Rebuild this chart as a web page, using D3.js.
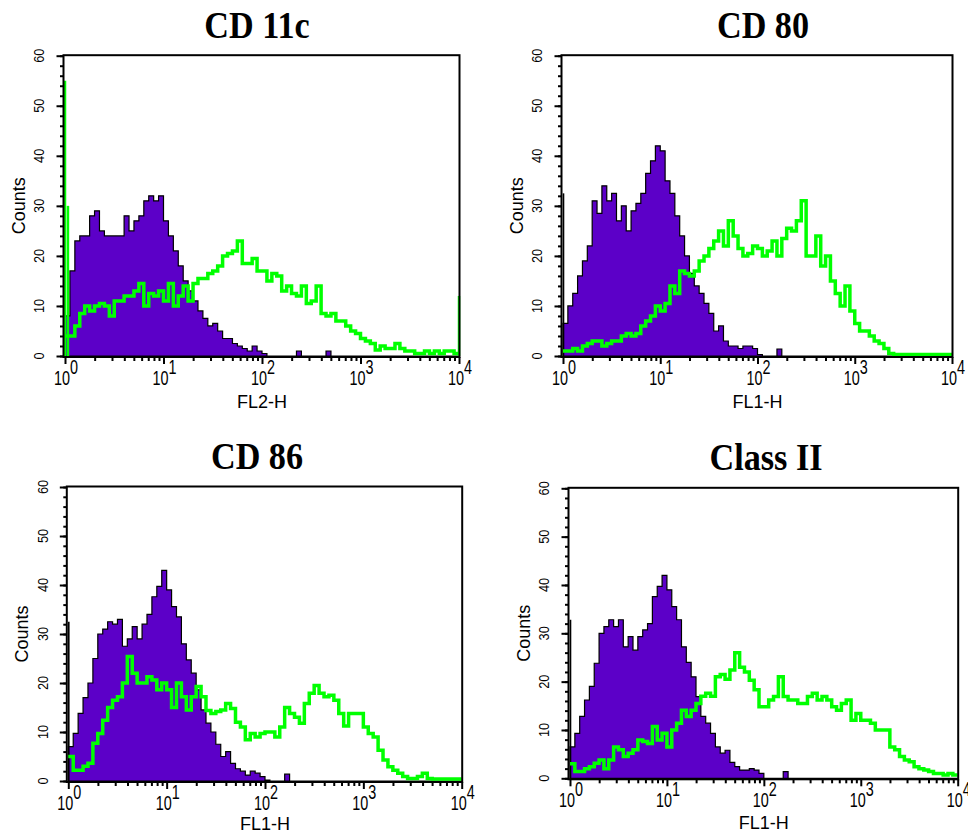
<!DOCTYPE html>
<html>
<head>
<meta charset="utf-8">
<script src="https://cdn.jsdelivr.net/npm/d3@7"></script>
<style>
  body { margin: 0; background: #fff; }
  svg { display: block; }
</style>
</head>
<body>
<div id="chart"></div>
<script>
// each histogram value is one channel bin, binWidth decades wide, starting at 10^0
const binWidth = 0.05;
const countTicks = [0, 10, 20, 30, 40, 50, 60];
const decades = [0, 1, 2, 3, 4];
const titles = ['CD 11c', 'CD 80', 'CD 86', 'Class II'];
const xLabels = ['FL2-H', 'FL1-H', 'FL1-H', 'FL1-H'];

// purple = isotype control, green = stained sample
const cd11cControl = [
  8, 17, 23, 24, 24, 28, 29, 25, 24, 24,
  24, 24, 28, 25, 27, 28, 31, 32, 31, 32,
  27, 24, 21, 18, 15, 13, 11, 9, 7.5, 6,
  6.5, 5, 3.5, 3.5, 2.5, 2, 1.5, 1, 2, 1,
  0.5, 0, 0, 0, 0, 0, 0, 1, 0, 0,
  0, 0, 0, 1, 0, 0, 0, 0, 0, 0,
  0, 0, 0, 0, 0, 0, 0, 0, 0, 0,
  0, 0, 0, 0, 0, 0, 0, 0, 0, 0
];
const cd11cStained = [
  4, 4, 6, 8.5, 10, 9, 10, 10.5, 10, 8,
  11, 11, 12, 12, 13, 14.5, 10, 12.5, 12, 13,
  11, 14.5, 10, 12, 14, 11, 14.5, 15.5, 15.5, 16.5,
  17, 18, 20, 20.5, 21, 23, 18.5, 18.5, 19.5, 17,
  17, 15, 16.5, 16, 13, 14, 12.5, 12, 14, 10.5,
  11, 14, 8.5, 8, 8.5, 7, 7, 6, 5, 4.5,
  3.5, 3, 2.5, 1.2, 2, 1.5, 1.5, 2.5, 1.5, 1,
  1, 0.5, 0.5, 1, 0.5, 1, 0.5, 1, 1, 0.5
];
const cd80Control = [
  6.5, 10, 12.5, 16, 19, 22, 31, 28.5, 34, 31,
  32.5, 27, 30, 25, 29, 30.5, 32.5, 36.5, 39, 42,
  41, 35, 32.5, 28, 24, 20, 16.5, 14, 12.5, 10.5,
  8.5, 5, 6, 3, 2, 2, 1.5, 2, 2, 1.5,
  0.3, 0, 0, 0, 1.4, 0, 0, 0, 0, 0,
  0, 0, 0, 0, 0, 0, 0, 0, 0, 0,
  0, 0, 0, 0, 0, 0, 0, 0, 0, 0,
  0, 0, 0, 0, 0, 0, 0, 0, 0, 0
];
const cd80Stained = [
  1, 1, 1.5, 1, 2, 2.5, 3, 3, 2, 2.5,
  3, 3, 4, 4.5, 4, 4.5, 6, 7, 8, 10,
  9, 10.5, 14, 12.5, 17, 16.5, 16, 17, 19, 20,
  21.5, 23, 25, 22, 27, 24, 21.5, 20, 20.5, 22,
  21.5, 20, 21, 23, 20, 23.5, 25.5, 25, 27, 31,
  20, 20, 24, 18, 20, 15, 12.5, 10, 14, 9,
  6.5, 5, 5, 4, 3, 2.5, 1.5, 0.5, 0.3, 0.3,
  0.3, 0.3, 0.3, 0.3, 0.3, 0.3, 0.3, 0.3, 0.3, 0.3
];
const cd86Control = [
  7, 9.7, 13.8, 17, 20, 25, 30, 31, 32.5, 32,
  33, 27.5, 29, 31.5, 29, 32, 34, 37.6, 39.7, 43,
  39, 35.6, 33.5, 28, 24.7, 22, 18.6, 14.5, 11.8, 10,
  7.5, 5, 6, 3.6, 2.5, 2, 1.2, 2, 1.6, 0.9,
  0.2, 0, 0, 0, 1.4, 0, 0, 0, 0, 0,
  0, 0, 0, 0, 0, 0, 0, 0, 0, 0,
  0, 0, 0, 0, 0, 0, 0, 0, 0, 0,
  0, 0, 0, 0, 0, 0, 0, 0, 0, 0
];
const cd86Stained = [
  5, 2.2, 2.2, 3, 3.6, 7.7, 9.7, 12.4, 15, 16.5,
  17.2, 20, 25.4, 22, 20, 20, 21.3, 20.6, 18.6, 20,
  18.6, 15, 20, 17.2, 14.5, 17.2, 19.3, 17.2, 14.4, 13.8,
  14.2, 14.5, 15.8, 14.8, 12, 11, 8.4, 9.7, 9, 9.7,
  10, 10, 9, 11, 15, 13.8, 13, 11.8, 15.8, 17.9,
  19.5, 17.9, 17.2, 17.5, 16.5, 13.8, 11.2, 13.8, 13.8, 13.8,
  11, 9.7, 9, 6.3, 4.3, 2.9, 2.2, 1.6, 0.9, 0.5,
  0.5, 0.9, 1.6, 0.5, 0.4, 0.4, 0.4, 0.4, 0.4, 0.4
];
const classIIControl = [
  6.5, 9.3, 12.8, 16.2, 19, 23.8, 30, 31.4, 32.8, 31.4,
  32.8, 27.2, 29.3, 26.5, 29.3, 30.7, 32, 37.6, 39.7, 42,
  39, 35.5, 32.8, 27.2, 24, 21, 16.9, 12.8, 11.4, 9.3,
  6.5, 5.2, 5.8, 3.3, 2.4, 1.7, 1.7, 2, 1.7, 1,
  0, 0, 0, 0, 1.4, 0, 0, 0, 0, 0,
  0, 0, 0, 0, 0, 0, 0, 0, 0, 0,
  0, 0, 0, 0, 0, 0, 0, 0, 0, 0,
  0, 0, 0, 0, 0, 0, 0, 0, 0, 0
];
const classIIStained = [
  3, 1.4, 1.4, 2, 2.4, 3.1, 3.8, 2, 3.8, 6.5,
  5.9, 4.5, 5.2, 5.9, 7.9, 7.6, 7.2, 10.7, 7.9, 9.3,
  6.5, 10, 11.4, 14.1, 12.8, 14.1, 15.5, 17, 17.6, 17,
  21, 21.5, 20.5, 22.4, 26, 23, 22, 20.3, 18.3, 14.8,
  14.8, 16.2, 16.9, 21, 16.9, 16.2, 16.2, 15.5, 15.5, 16.9,
  17.6, 16.2, 16.9, 16.2, 14.8, 14.1, 15.5, 16.2, 12, 13.4,
  12, 12, 11.4, 10, 10, 10, 6.5, 5.9, 4.5, 3.8,
  3.4, 2.4, 2, 1.7, 1.4, 1, 1, 0.7, 1, 0.7
];

// off-scale events piled in the first / last channel: [decade position, count]
const cd11cStainedEdges = [[0, 55], [0.03, 30], [4, 12]];
const controlFirstChannel = [0, 32.5, 32.5, 32.8];

const controls = [cd11cControl, cd80Control, cd86Control, classIIControl];
const stained = [cd11cStained, cd80Stained, cd86Stained, classIIStained];
const stainedEdges = [cd11cStainedEdges, [], [], []];

const width = 968;
const height = 834;
const purple = '#5c00c8';
const green = '#00ff00';
const sans = 'Liberation Sans, Arial, sans-serif';

const frames = [
  { left: 65, right: 459, top: 55.7, bottom: 356, titleX: 257, labelY: 52 },
  { left: 563, right: 952, top: 55.7, bottom: 356, titleX: 763, labelY: 52 },
  { left: 68.3, right: 461.7, top: 487, bottom: 781, titleX: 257, labelY: 49 },
  { left: 570, right: 957.7, top: 488.3, bottom: 778.3, titleX: 766, labelY: 51 }
];

const svg = d3.select('#chart')
  .append('svg')
  .attr('width', width)
  .attr('height', height);

const toPoints = values => values
  .map((v, i) => [i * binWidth, v])
  .concat([[values.length * binWidth, values[values.length - 1]]]);

frames.forEach((f, k) => {
  const x = d3.scaleLog().domain([1, 1e4]).range([f.left, f.right]);
  const y = d3.scaleLinear().domain([0, 60]).range([f.bottom, f.top]);
  const g = svg.append('g');

  const area = d3.area()
    .curve(d3.curveStepAfter)
    .x(d => x(10 ** d[0]))
    .y0(y(0))
    .y1(d => y(d[1]));

  const line = d3.line()
    .curve(d3.curveStepAfter)
    .x(d => x(10 ** d[0]))
    .y(d => y(d[1]));

  g.append('path')
    .attr('d', area(toPoints(controls[k])))
    .attr('fill', purple)
    .attr('stroke', '#000')
    .attr('stroke-width', 1.2);

  if (controlFirstChannel[k] > 0) {
    g.append('line')
      .attr('x1', x(1) + 0.5).attr('x2', x(1) + 0.5)
      .attr('y1', y(0)).attr('y2', y(controlFirstChannel[k]))
      .attr('stroke', '#000')
      .attr('stroke-width', 1.6);
  }

  g.append('path')
    .attr('d', line(toPoints(stained[k])))
    .attr('fill', 'none')
    .attr('stroke', green)
    .attr('stroke-width', 3.5);

  g.selectAll('line.edge')
    .data(stainedEdges[k])
    .join('line')
      .attr('class', 'edge')
      .attr('x1', d => x(10 ** d[0])).attr('x2', d => x(10 ** d[0]))
      .attr('y1', y(0))
      .attr('y2', d => y(d[1]))
      .attr('stroke', green)
      .attr('stroke-width', 2.5);

  // frame
  g.append('rect')
    .attr('x', f.left - 1.5)
    .attr('y', f.top - 0.5)
    .attr('width', f.right - f.left + 2)
    .attr('height', f.bottom - f.top + 1.5)
    .attr('fill', 'none')
    .attr('stroke', '#000')
    .attr('stroke-width', 2);

  // x axis: minor and decade ticks
  const minor = [];
  decades.slice(0, -1).forEach(d => {
    for (let m = 2; m <= 9; m++) minor.push(m * 10 ** d);
  });

  const xMinor = g.append('g')
    .attr('transform', `translate(0,${f.bottom + 1})`)
    .call(d3.axisBottom(x).tickValues(minor).tickSize(4).tickFormat(''));
  const xMajor = g.append('g')
    .attr('transform', `translate(0,${f.bottom + 1})`)
    .call(d3.axisBottom(x).tickValues(decades.map(d => 10 ** d)).tickSize(7).tickFormat(''));
  [xMinor, xMajor].forEach(a => {
    a.select('.domain').remove();
    a.selectAll('.tick line').attr('stroke', '#000').attr('stroke-width', 2);
  });

  const xText = g.selectAll('text.decade')
    .data(decades)
    .join('text')
      .attr('class', 'decade')
      .attr('transform', d => `translate(${x(10 ** d) + 1},${f.bottom + 29}) scale(0.72,1)`)
      .attr('text-anchor', 'middle')
      .attr('font-family', sans)
      .attr('font-size', 20);
  xText.append('tspan').text('10');
  xText.append('tspan').attr('dy', -11).text(d => d);

  g.append('text')
    .attr('x', (f.left + f.right) / 2)
    .attr('y', f.bottom + f.labelY)
    .attr('text-anchor', 'middle')
    .attr('font-family', sans)
    .attr('font-size', 18)
    .text(xLabels[k]);

  // y axis
  const yMinor = g.append('g')
    .attr('transform', `translate(${f.left - 1.5},0)`)
    .call(d3.axisLeft(y).tickValues(d3.range(0, 61, 2)).tickSize(3.5).tickFormat(''));
  const yMajor = g.append('g')
    .attr('transform', `translate(${f.left - 1.5},0)`)
    .call(d3.axisLeft(y).tickValues(countTicks).tickSize(7).tickFormat(''));
  [yMinor, yMajor].forEach(a => {
    a.select('.domain').remove();
    a.selectAll('.tick line').attr('stroke', '#000').attr('stroke-width', 2);
  });

  g.selectAll('text.count')
    .data(countTicks)
    .join('text')
      .attr('class', 'count')
      .attr('transform', d => `translate(${f.left - 26},${y(d)}) rotate(-90) scale(0.85,1)`)
      .attr('text-anchor', 'middle')
      .attr('dominant-baseline', 'central')
      .attr('font-family', sans)
      .attr('font-size', 15)
      .text(d => d);

  g.append('text')
    .attr('transform', `translate(${f.left - 46},${(f.top + f.bottom) / 2}) rotate(-90)`)
    .attr('text-anchor', 'middle')
    .attr('dominant-baseline', 'central')
    .attr('font-family', sans)
    .attr('font-size', 18)
    .text('Counts');

  g.append('text')
    .attr('transform', `translate(${f.titleX},${f.top - 18}) scale(0.9,1)`)
    .attr('text-anchor', 'middle')
    .attr('font-family', 'Liberation Serif, Times New Roman, serif')
    .attr('font-weight', 'bold')
    .attr('font-size', 38)
    .text(titles[k]);
});
</script>
</body>
</html>
